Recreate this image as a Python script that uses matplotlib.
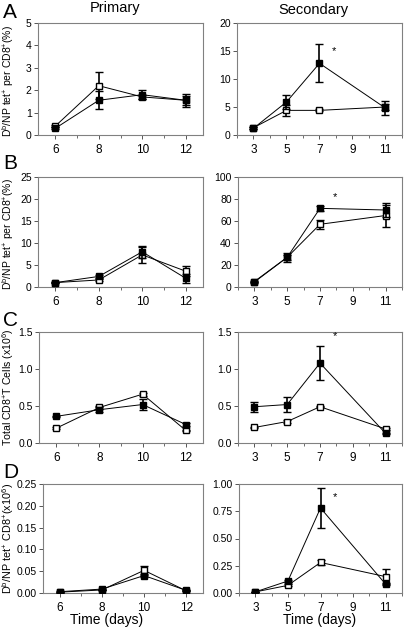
import matplotlib
matplotlib.use('Agg')
import matplotlib.pyplot as plt
from matplotlib.ticker import MultipleLocator

plt.rcParams['font.family'] = ['Liberation Sans', 'DejaVu Sans']
plt.rcParams['mathtext.fontset'] = 'custom'
plt.rcParams['mathtext.rm'] = 'Liberation Sans'
plt.rcParams['mathtext.it'] = 'Liberation Sans'

# --- data ---
days_primary = [6, 8, 10, 12]
days_secondary = [3, 5, 7, 11]

# panel A: Db/NP tet+ per CD8+ (%)
a_pri_filled = [0.3, 1.55, 1.8, 1.55]
a_pri_filled_err = [0.05, 0.4, 0.2, 0.3]
a_pri_open = [0.4, 2.2, 1.7, 1.55]
a_pri_open_err = [0.05, 0.6, 0.1, 0.2]
a_sec_filled = [1.2, 5.9, 12.8, 4.8]
a_sec_filled_err = [0.2, 1.3, 3.4, 1.3]
a_sec_open = [1.3, 4.4, 4.4, 5.0]
a_sec_open_err = [0.2, 1.0, 0.2, 0.5]

# panel B
b_pri_filled = [1.0, 2.4, 8.0, 2.0]
b_pri_filled_err = [0.1, 0.3, 1.3, 1.0]
b_pri_open = [1.0, 1.6, 7.3, 3.6]
b_pri_open_err = [0.1, 0.3, 1.8, 1.2]
b_sec_filled = [5.0, 27.0, 71.5, 70.0]
b_sec_filled_err = [0.5, 2.0, 2.0, 6.0]
b_sec_open = [4.5, 27.0, 57.0, 65.0]
b_sec_open_err = [0.5, 4.0, 4.0, 10.0]

# panel C: total CD8+ T cells (x10^6)
c_pri_filled = [0.36, 0.45, 0.52, 0.25]
c_pri_filled_err = [0.01, 0.03, 0.08, 0.02]
c_pri_open = [0.20, 0.48, 0.66, 0.17]
c_pri_open_err = [0.01, 0.02, 0.02, 0.01]
c_sec_filled = [0.49, 0.52, 1.08, 0.13]
c_sec_filled_err = [0.07, 0.10, 0.23, 0.01]
c_sec_open = [0.21, 0.29, 0.49, 0.19]
c_sec_open_err = [0.01, 0.02, 0.01, 0.01]

# panel D: Db/NP tet+ CD8+ (x10^6)
d_pri_filled = [0.003, 0.009, 0.040, 0.006]
d_pri_filled_err = [0.001, 0.001, 0.004, 0.001]
d_pri_open = [0.002, 0.007, 0.052, 0.005]
d_pri_open_err = [0.001, 0.001, 0.010, 0.001]
d_sec_filled = [0.01, 0.11, 0.78, 0.08]
d_sec_filled_err = [0.002, 0.01, 0.18, 0.01]
d_sec_open = [0.01, 0.07, 0.28, 0.15]
d_sec_open_err = [0.002, 0.01, 0.02, 0.07]

ylabel_a = 'D$^{b}$/NP tet$^{+}$ per CD8$^{+}$(%)'
ylabel_c = 'Total CD8$^{+}$T Cells (x10$^{6}$)'
ylabel_d = 'D$^{b}$/NP tet$^{+}$ CD8$^{+}$(x10$^{6}$)'

W, H = 405, 627
fig = plt.figure(figsize=(W / 100, H / 100), dpi=100)

# axes boxes in pixels: (left, right) per column and (top, bottom) per row
rows = [(23, 135), (177, 287), (332, 443), (484, 593)]
lefts = [[38, 237], [38, 238], [39, 238], [43, 239]]
rights = [203, 402]


def make_ax(col, row):
    l = lefts[row][col]
    r = rights[col]
    t, b = rows[row]
    return fig.add_axes([l / W, 1 - b / H, (r - l) / W, (b - t) / H])


def draw(ax, x, filled, ferr, opn, oerr):
    ax.errorbar(x, opn, yerr=oerr, color='black', lw=0.7, elinewidth=1.2,
                capsize=3, capthick=1.0, marker='s', ms=5, mfc='white',
                mec='black', mew=1.0, zorder=3)
    ax.errorbar(x, filled, yerr=ferr, color='black', lw=0.7, elinewidth=1.2,
                capsize=3, capthick=1.0, marker='s', ms=5, mfc='black',
                mec='black', zorder=4)


def style(ax, xticks, xlim, ylim, ystep, fmt):
    ax.set_xlim(*xlim)
    ax.set_ylim(*ylim)
    ax.set_xticks(xticks)
    ax.xaxis.set_minor_locator(MultipleLocator(1))
    ax.yaxis.set_major_locator(MultipleLocator(ystep))
    ax.yaxis.set_major_formatter(plt.FuncFormatter(lambda v, p: fmt.format(v)))
    for s in ax.spines.values():
        s.set_color('#808080')
        s.set_linewidth(0.8)
    ax.tick_params(axis='y', which='major', labelsize=7.5, length=3,
                   width=0.7, color='#555555', pad=1.5)
    ax.tick_params(axis='x', which='major', labelsize=8.5, length=3,
                   width=0.7, color='#555555', pad=3.5)
    ax.tick_params(axis='x', which='minor', length=2, width=0.6, color='#555555')


panels = [
    (a_pri_filled, a_pri_filled_err, a_pri_open, a_pri_open_err,
     a_sec_filled, a_sec_filled_err, a_sec_open, a_sec_open_err,
     (0, 5), 1, '{:.0f}', (0, 20), 5, '{:.0f}', ylabel_a, 15.0),
    (b_pri_filled, b_pri_filled_err, b_pri_open, b_pri_open_err,
     b_sec_filled, b_sec_filled_err, b_sec_open, b_sec_open_err,
     (0, 25), 5, '{:.0f}', (0, 100), 20, '{:.0f}', ylabel_a, 82.0),
    (c_pri_filled, c_pri_filled_err, c_pri_open, c_pri_open_err,
     c_sec_filled, c_sec_filled_err, c_sec_open, c_sec_open_err,
     (0, 1.5), 0.5, '{:.1f}', (0, 1.5), 0.5, '{:.1f}', ylabel_c, 1.44),
    (d_pri_filled, d_pri_filled_err, d_pri_open, d_pri_open_err,
     d_sec_filled, d_sec_filled_err, d_sec_open, d_sec_open_err,
     (0, 0.25), 0.05, '{:.2f}', (0, 1.0), 0.25, '{:.2f}', ylabel_d, 0.88),
]

letters = ['A', 'B', 'C', 'D']
letter_y = [13, 163, 320, 472]
label_x = [8, 8, 8, 8]
label_y_shift = [2, 2, 0, 0]
label_size = [7.5, 7.5, 7.6, 7.8]

for i, p in enumerate(panels):
    (pf, pfe, po, poe, sf, sfe, so, soe,
     pyl, pst, pfmt, syl, sst, sfmt, ylab, star_y) = p
    ax1 = make_ax(0, i)
    draw(ax1, days_primary, pf, pfe, po, poe)
    style(ax1, days_primary, (5.2, 12.8), pyl, pst, pfmt)

    ax2 = make_ax(1, i)
    draw(ax2, days_secondary, sf, sfe, so, soe)
    style(ax2, [3, 5, 7, 9, 11], (2, 12), syl, sst, sfmt)
    ax2.text(7.9, star_y, '*', ha='center', va='center', fontsize=8)

    # y label sits at the far left, centred on the axes
    t, b = rows[i]
    fig.text(label_x[i] / W, 1 - ((t + b) / 2 + label_y_shift[i]) / H, ylab,
             rotation=90, ha='center', va='center', fontsize=label_size[i])

    fig.text(3 / W, 1 - letter_y[i] / H, letters[i], fontsize=15,
             ha='left', va='center')

fig.text(115 / W, 1 - 8 / H, 'Primary', fontsize=10.5, ha='center', va='center')
fig.text(313 / W, 1 - 10 / H, 'Secondary', fontsize=10.5, ha='center', va='center')
fig.text(107 / W, 1 - 620 / H, 'Time (days)', fontsize=10, ha='center', va='center')
fig.text(320 / W, 1 - 620 / H, 'Time (days)', fontsize=10, ha='center', va='center')

fig.savefig('out.png', dpi=100)
